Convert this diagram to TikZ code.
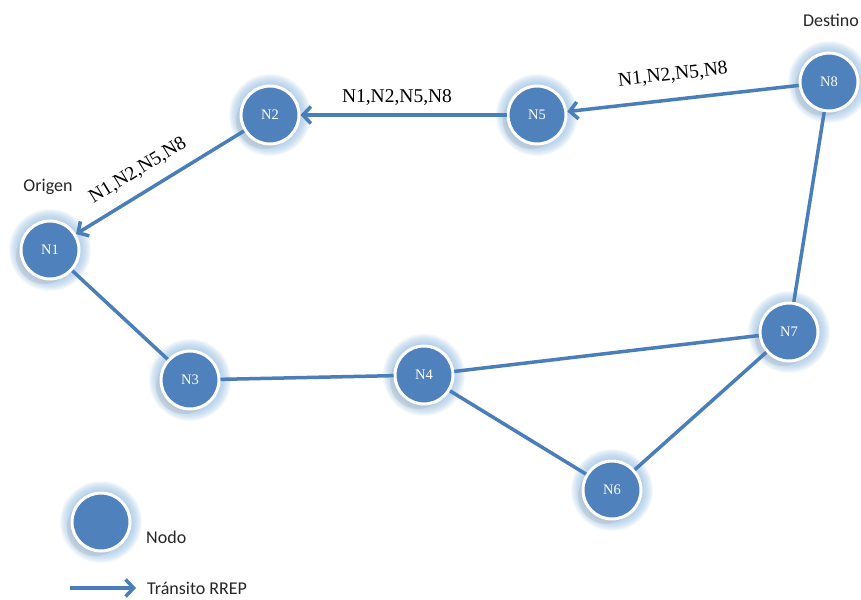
\documentclass[tikz,border=0pt]{standalone}
\usepackage{fontspec}
\setmainfont{Carlito}
\newfontfamily\labfont{Liberation Serif}
\usetikzlibrary{arrows.meta,calc}
\definecolor{nodeblue}{HTML}{4F81BD}
\definecolor{edgeblue}{HTML}{4A7EBB}
\definecolor{glowblue}{HTML}{9DC3E6}
\tikzset{
  x=1pt, y=-1pt,
  netnode/.style={circle, minimum size=58pt, inner sep=0pt, fill=nodeblue, draw=white, line width=3pt, text=white, font=\labfont\fontsize{14.5}{14.5}\selectfont},
  link/.style={draw=edgeblue, line width=3.5pt},
  rrep/.style={link, -{Straight Barb[length=8pt,width=17pt]}},
  elabel/.style={font=\labfont\fontsize{19.5}{19.5}\selectfont, text=black, inner sep=1pt},
  plain/.style={font=\fontsize{18}{18}\selectfont, text=black!85}
}
\newcommand{\glowat}[1]{%
  \foreach \r in {30,31,...,41} {\fill[glowblue, opacity=0.10] (#1) circle (\r pt);}%
  \fill[black!35, opacity=0.25] ($(#1)+(-6,6)$) circle (28pt);%
}
\begin{document}
\begin{tikzpicture}
\useasboundingbox (0,0) rectangle (861,599);
\fill[white] (0,0) rectangle (861,599);
% glows
\foreach \p in {{50,250},{270,115},{537,115},{829,82},{789,332},{190,380},{424,375},{612,490},{101,522}} {
  \glowat{\p}
}
% nodes
\node[netnode] (n1) at (50,250) {N1};
\node[netnode] (n2) at (270,115) {N2};
\node[netnode] (n5) at (537,115) {N5};
\node[netnode] (n8) at (829,82) {N8};
\node[netnode] (n7) at (789,332) {N7};
\node[netnode] (n3) at (190,380) {N3};
\node[netnode] (n4) at (424,375) {N4};
\node[netnode] (n6) at (612,490) {N6};
\node[netnode] (leg) at (101,522) {};
% links
\draw[link] (n1) -- (n3);
\draw[link] (n3) -- (n4);
\draw[link] (n4) -- (n7);
\draw[link] (n4) -- (n6);
\draw[link] (n6) -- (n7);
\draw[link] (n7) -- (n8);
\draw[rrep] (n8) -- (n5);
\draw[rrep] (n5) -- (n2);
\draw[rrep] (n2) -- (n1);
% edge labels
\node[elabel] (l1) at (397,98) {N1,N2,N5,N8};
\node[elabel, rotate=6.4] (l2) at (673,75) {N1,N2,N5,N8};
\node[elabel, rotate=31.5] (l3) at (138,171) {N1,N2,N5,N8};
% annotations
\node[plain] (dest) at (831,20) {Destino};
\node[plain] (orig) at (48,187) {Origen};
\node[plain, anchor=west, inner sep=0pt] (nodo) at (146,537) {Nodo};
\coordinate (a0) at (70,588);
\coordinate (a1) at (136,588);
\draw[rrep] (a0) -- (a1);
\node[plain, anchor=west, inner sep=0pt] (trans) at (147,588) {Tránsito RREP};
\end{tikzpicture}
\end{document}
